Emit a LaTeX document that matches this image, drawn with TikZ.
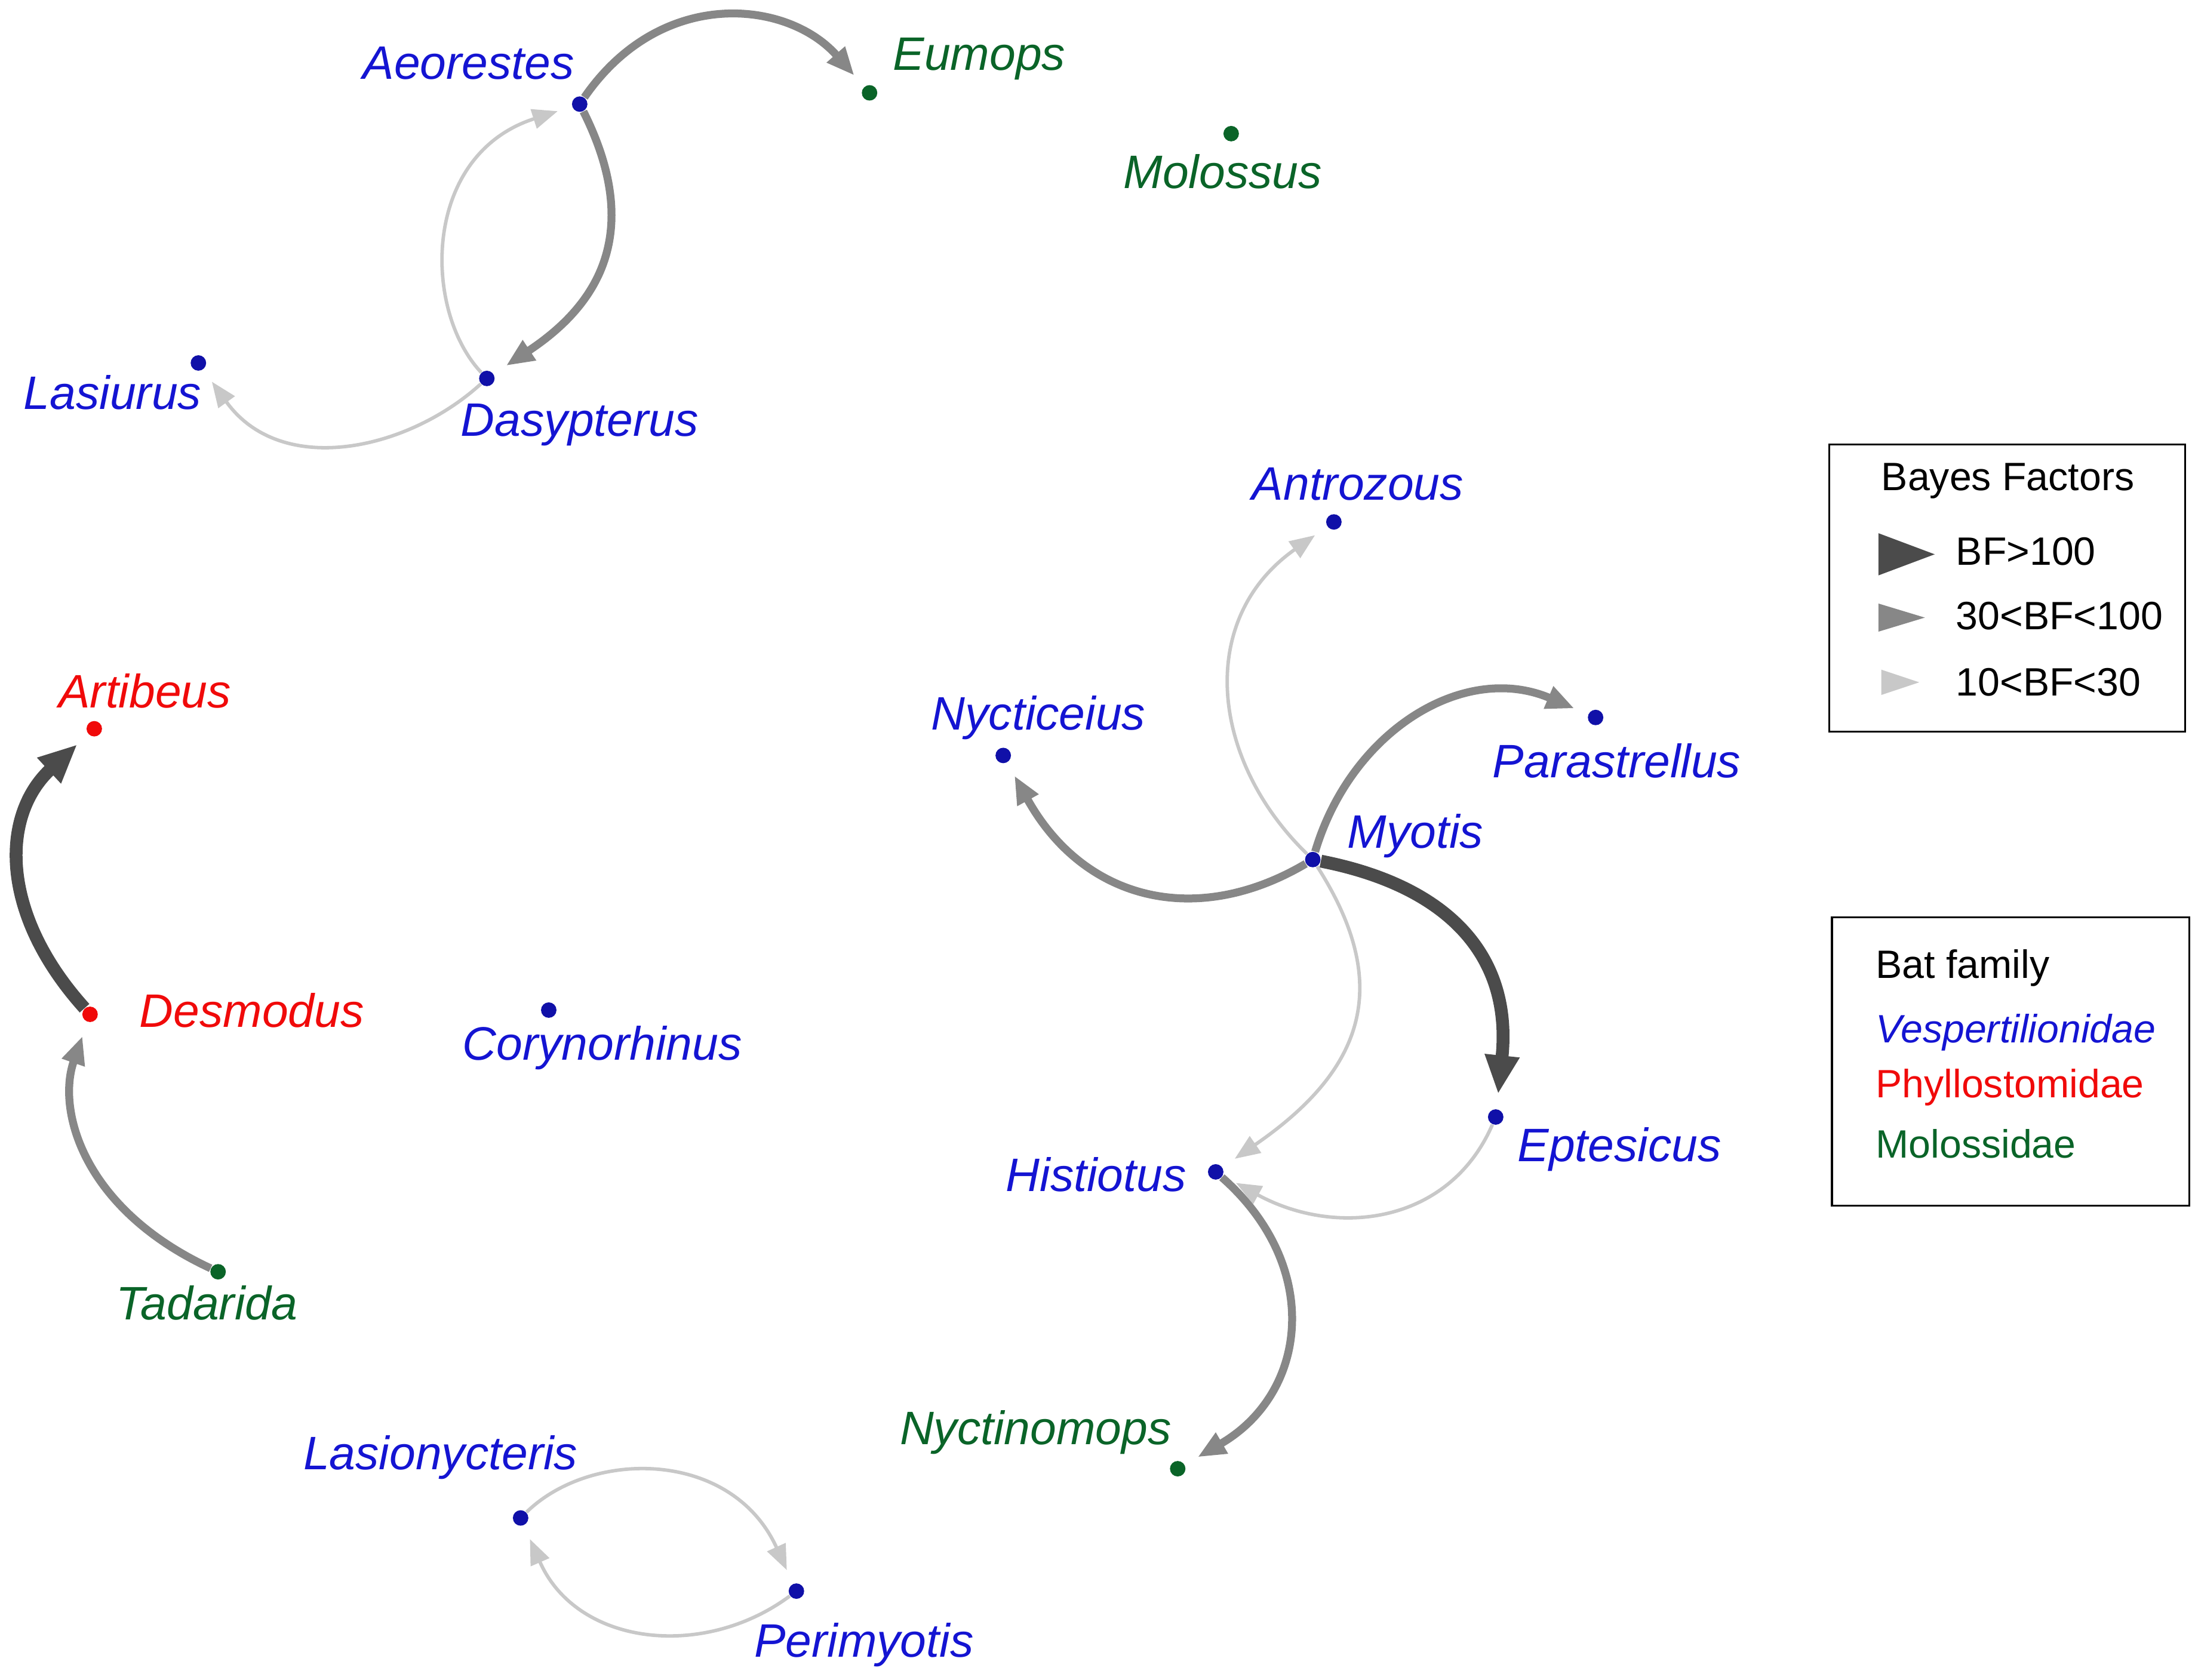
\documentclass[tikz,border=0pt]{standalone}
\usepackage{fontspec}
\setmainfont{Liberation Sans}
\usetikzlibrary{arrows.meta}
\definecolor{vb}{RGB}{20,20,210}
\definecolor{pr}{RGB}{240,10,10}
\definecolor{mg}{RGB}{10,100,40}
\definecolor{dk}{RGB}{75,75,75}
\definecolor{md}{RGB}{135,135,135}
\definecolor{lt}{RGB}{200,200,200}
\begin{document}
\begin{tikzpicture}[x={(0.02cm,0)},y={(0,-0.02cm)},
  dot/.style={circle,inner sep=0,minimum size=0.22cm},
  V/.style={dot,fill=vb!80!black}, P/.style={dot,fill=pr}, M/.style={dot,fill=mg},
  lab/.style={font=\fontsize{19}{22}\selectfont\itshape},
  lv/.style={lab,text=vb}, lp/.style={lab,text=pr}, lm/.style={lab,text=mg},
  dark/.style={draw=dk,line width=5.2pt,-{Triangle[length=0.55cm,width=0.46cm]},shorten >=6pt},
  med/.style={draw=md,line width=3.2pt,-{Triangle[length=0.4cm,width=0.32cm]},shorten >=6pt},
  lig/.style={draw=lt,line width=1.4pt,-{Triangle[length=0.36cm,width=0.28cm]},shorten >=6pt},
  leg/.style={font=\fontsize{16}{19}\selectfont,anchor=west}]
\useasboundingbox (0,0) rectangle (1560,1194);
% nodes
\node[V] (aeo) at (412,74) {}; \node[lv] (laeo) at (333,45) {Aeorestes};
\node[M] (eum) at (618,66) {}; \node[lm] (leum) at (696,42) {Eumops};
\node[M] (mol) at (875,95) {}; \node[lm] (lmol) at (869,122) {Molossus};
\node[V] (las) at (141,258) {}; \node[lv] (llas) at (80,279) {Lasiurus};
\node[V] (das) at (346,269) {}; \node[lv] (ldas) at (412,302) {Dasypterus};
\node[V] (ant) at (948,371) {}; \node[lv] (lant) at (965,344) {Antrozous};
\node[P] (art) at (67,518) {}; \node[lp] (lart) at (103,491) {Artibeus};
\node[V] (nyc) at (713,537) {}; \node[lv] (lnyc) at (738,510) {Nycticeius};
\node[V] (par) at (1134,510) {}; \node[lv] (lpar) at (1149,541) {Parastrellus};
\node[V] (myo) at (933,611) {}; \node[lv] (lmyo) at (1006,594) {Myotis};
\node[P] (des) at (64,721) {}; \node[lp] (ldes) at (179,718) {Desmodus};
\node[V] (cor) at (390,718) {}; \node[lv] (lcor) at (428,745) {Corynorhinus};
\node[V] (ept) at (1063,794) {}; \node[lv] (lept) at (1151,817) {Eptesicus};
\node[V] (his) at (864,833) {}; \node[lv] (lhis) at (779,835) {Histiotus};
\node[M] (tad) at (155,904) {}; \node[lm] (ltad) at (147,926) {Tadarida};
\node[M] (nyt) at (837,1044) {}; \node[lm] (lnyt) at (736,1018) {Nyctinomops};
\node[V] (lsn) at (370,1079) {}; \node[lv] (llsn) at (313,1036) {Lasionycteris};
\node[V] (per) at (566,1131) {}; \node[lv] (lper) at (614,1169) {Perimyotis};
% edges
\draw[med] (aeo) .. controls (470,-10) and (560,0) .. (eum);
\draw[med] (aeo) .. controls (460,170) and (420,220) .. (das);
\draw[lig] (das) .. controls (300,220) and (300,110) .. (aeo);
\draw[lig] (das) .. controls (290,320) and (200,340) .. (las);
\draw[dark] (des) .. controls (0,650) and (0,580) .. (art);
\draw[med] (tad) .. controls (60,860) and (40,790) .. (des);
\draw[lig] (myo) .. controls (860,540) and (850,440) .. (ant);
\draw[med] (myo) .. controls (960,520) and (1040,470) .. (par);
\draw[med] (myo) .. controls (850,660) and (770,640) .. (nyc);
\draw[dark] (myo) .. controls (1030,630) and (1075,680) .. (ept);
\draw[lig] (myo) .. controls (990,700) and (970,760) .. (his);
\draw[lig] (ept) .. controls (1030,870) and (950,880) .. (his);
\draw[med] (his) .. controls (940,900) and (930,990) .. (nyt);
\draw[lig] (lsn) .. controls (420,1030) and (520,1030) .. (per);
\draw[lig] (per) .. controls (500,1180) and (410,1170) .. (lsn);
% legend 1
\draw[line width=0.8pt] (1300,316) rectangle (1553,520);
\node[leg,anchor=center] (bft) at (1427,342) {Bayes Factors};
\fill[dk] (1335,379) -- (1375,394) -- (1335,409) -- cycle;
\fill[md] (1335,429) -- (1368,439) -- (1335,449) -- cycle;
\fill[lt] (1337,476) -- (1364,485) -- (1337,494) -- cycle;
\node[leg] (b1) at (1384,392) {BF>100};
\node[leg] (b2) at (1384,438) {30<BF<100};
\node[leg] (b3) at (1384,485) {10<BF<30};
% legend 2
\draw[line width=0.8pt] (1302,652) rectangle (1556,857);
\node[leg] (bf) at (1327,688) {Bat family};
\node[leg,text=vb,font=\fontsize{16}{19}\selectfont\itshape] (f1) at (1327,734) {Vespertilionidae};
\node[leg,text=pr] (f2) at (1327,773) {Phyllostomidae};
\node[leg,text=mg] (f3) at (1327,813) {Molossidae};
\end{tikzpicture}
\end{document}
